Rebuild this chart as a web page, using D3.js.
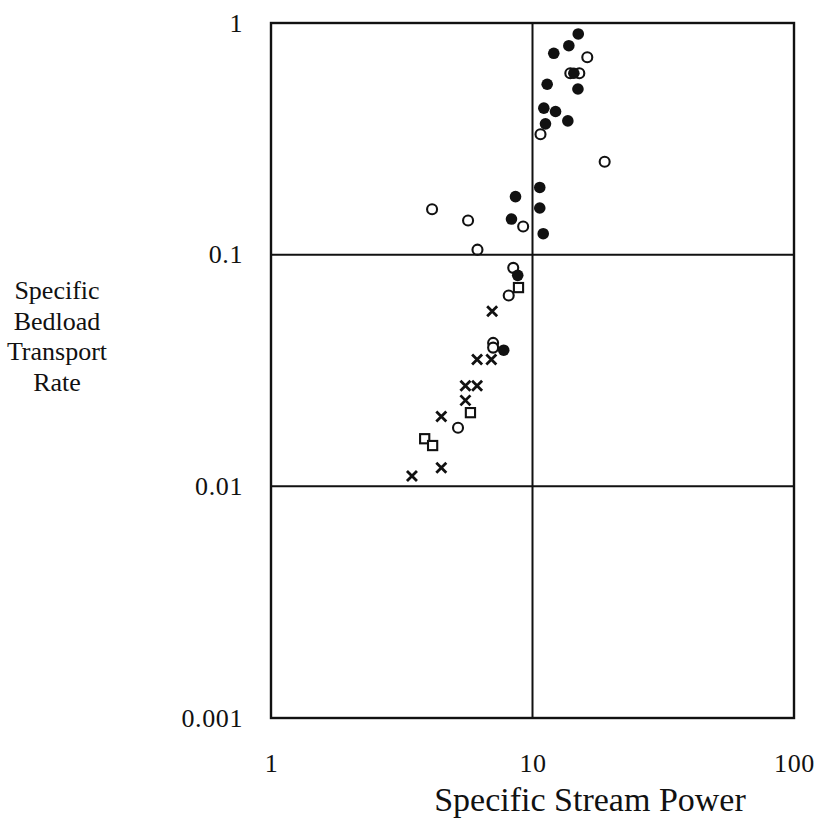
<!DOCTYPE html>
<html>
<head>
<meta charset="utf-8">
<script src="https://cdn.jsdelivr.net/npm/d3@7"></script>
<style>
  html, body { margin: 0; padding: 0; background: #fff; }
  svg { display: block; }
  text { font-family: "Liberation Serif", "DejaVu Serif", serif; fill: #111; }
</style>
</head>
<body>
<svg id="chart" width="817" height="821"></svg>
<script>
// values: [stream power, bedload rate]
const filledPts = [
  [14.96, 0.897], [13.77, 0.798], [12.06, 0.740], [14.39, 0.607],
  [11.38, 0.544], [14.92, 0.519], [11.05, 0.429], [12.25, 0.415],
  [13.65, 0.378], [11.21, 0.367], [8.61, 0.178], [10.66, 0.195],
  [10.66, 0.159], [8.31, 0.1425], [10.99, 0.1232], [8.78, 0.0814],
  [7.76, 0.0387]
];
const openPts = [
  [16.20, 0.711], [13.95, 0.607], [15.10, 0.607], [10.73, 0.331],
  [18.88, 0.252], [4.13, 0.157], [5.67, 0.1405], [9.21, 0.1324],
  [6.16, 0.1051], [8.44, 0.0877], [8.11, 0.0666], [7.07, 0.0416],
  [7.07, 0.0397], [5.19, 0.0179]
];
const squarePts = [
  [8.84, 0.0721], [5.79, 0.0208], [3.87, 0.01605], [4.15, 0.0150]
];
const crossPts = [
  [7.01, 0.0570], [6.14, 0.0353], [6.96, 0.0353], [5.54, 0.0272],
  [6.14, 0.0272], [5.54, 0.0235], [4.48, 0.0200], [4.48, 0.01204],
  [3.46, 0.01107]
];
const xTicks = [1, 10, 100];
const yTicks = [1, 0.1, 0.01, 0.001];
const xGrid = [10];
const yGrid = [0.1, 0.01];
const yTitle = ["Specific", "Bedload", "Transport", "Rate"];
const xTitle = "Specific Stream Power";

const margin = { top: 23, right: 23, bottom: 103, left: 271 };
const width = 817 - margin.left - margin.right;
const height = 821 - margin.top - margin.bottom;

const svg = d3.select("#chart");
const g = svg.append("g").attr("transform", `translate(${margin.left},${margin.top})`);

const x = d3.scaleLog().domain([1, 100]).range([0, width]);
const y = d3.scaleLog().domain([0.001, 1]).range([height, 0]);

// grid lines
g.selectAll(".vgrid").data(xGrid).join("line")
  .attr("x1", (d) => x(d)).attr("x2", (d) => x(d))
  .attr("y1", 0).attr("y2", height)
  .attr("stroke", "#111").attr("stroke-width", 2);
g.selectAll(".hgrid").data(yGrid).join("line")
  .attr("x1", 0).attr("x2", width)
  .attr("y1", (d) => y(d)).attr("y2", (d) => y(d))
  .attr("stroke", "#111").attr("stroke-width", 2);

// frame
g.append("rect")
  .attr("width", width).attr("height", height)
  .attr("fill", "none").attr("stroke", "#111").attr("stroke-width", 2.4);

// axes, labels only
const xAxis = d3.axisBottom(x).tickValues(xTicks).tickFormat(d3.format("~g")).tickSize(0).tickPadding(36);
const yAxis = d3.axisLeft(y).tickValues(yTicks).tickFormat(d3.format("~g")).tickSize(0).tickPadding(28);

g.append("g").attr("transform", `translate(0,${height})`).call(xAxis)
  .call((s) => s.select(".domain").remove())
  .selectAll("text").style("font-size", "26px").style("letter-spacing", "0.6px").attr("font-family", null);
g.append("g").call(yAxis)
  .call((s) => s.select(".domain").remove())
  .selectAll("text").style("font-size", "26px").style("letter-spacing", "0.6px").attr("font-family", null);

// titles
svg.append("text")
  .attr("x", 590).attr("y", 811)
  .attr("text-anchor", "middle")
  .style("font-size", "34px")
  .text(xTitle);

svg.append("text")
  .attr("x", 57).attr("y", 299)
  .attr("text-anchor", "middle")
  .style("font-size", "26px")
  .selectAll("tspan").data(yTitle).join("tspan")
  .attr("x", 57)
  .attr("dy", (d, i) => (i === 0 ? 0 : 30.5))
  .text((d) => d);

// markers
g.selectAll(".open").data(openPts).join("circle")
  .attr("cx", (d) => x(d[0])).attr("cy", (d) => y(d[1]))
  .attr("r", 5).attr("fill", "#fff").attr("stroke", "#111").attr("stroke-width", 2.1);

g.selectAll(".filled").data(filledPts).join("circle")
  .attr("cx", (d) => x(d[0])).attr("cy", (d) => y(d[1]))
  .attr("r", 5.8).attr("fill", "#111");

g.selectAll(".square").data(squarePts).join("rect")
  .attr("x", (d) => x(d[0]) - 4.6).attr("y", (d) => y(d[1]) - 4.6)
  .attr("width", 9.2).attr("height", 9.2)
  .attr("fill", "#fff").attr("stroke", "#111").attr("stroke-width", 2.1);

const crossPath = d3.path();
crossPath.moveTo(-5, -5); crossPath.lineTo(5, 5);
crossPath.moveTo(5, -5); crossPath.lineTo(-5, 5);
g.selectAll(".cross").data(crossPts).join("path")
  .attr("transform", (d) => `translate(${x(d[0])},${y(d[1])})`)
  .attr("d", crossPath.toString())
  .attr("fill", "none").attr("stroke", "#111").attr("stroke-width", 2.8);
</script>
</body>
</html>
